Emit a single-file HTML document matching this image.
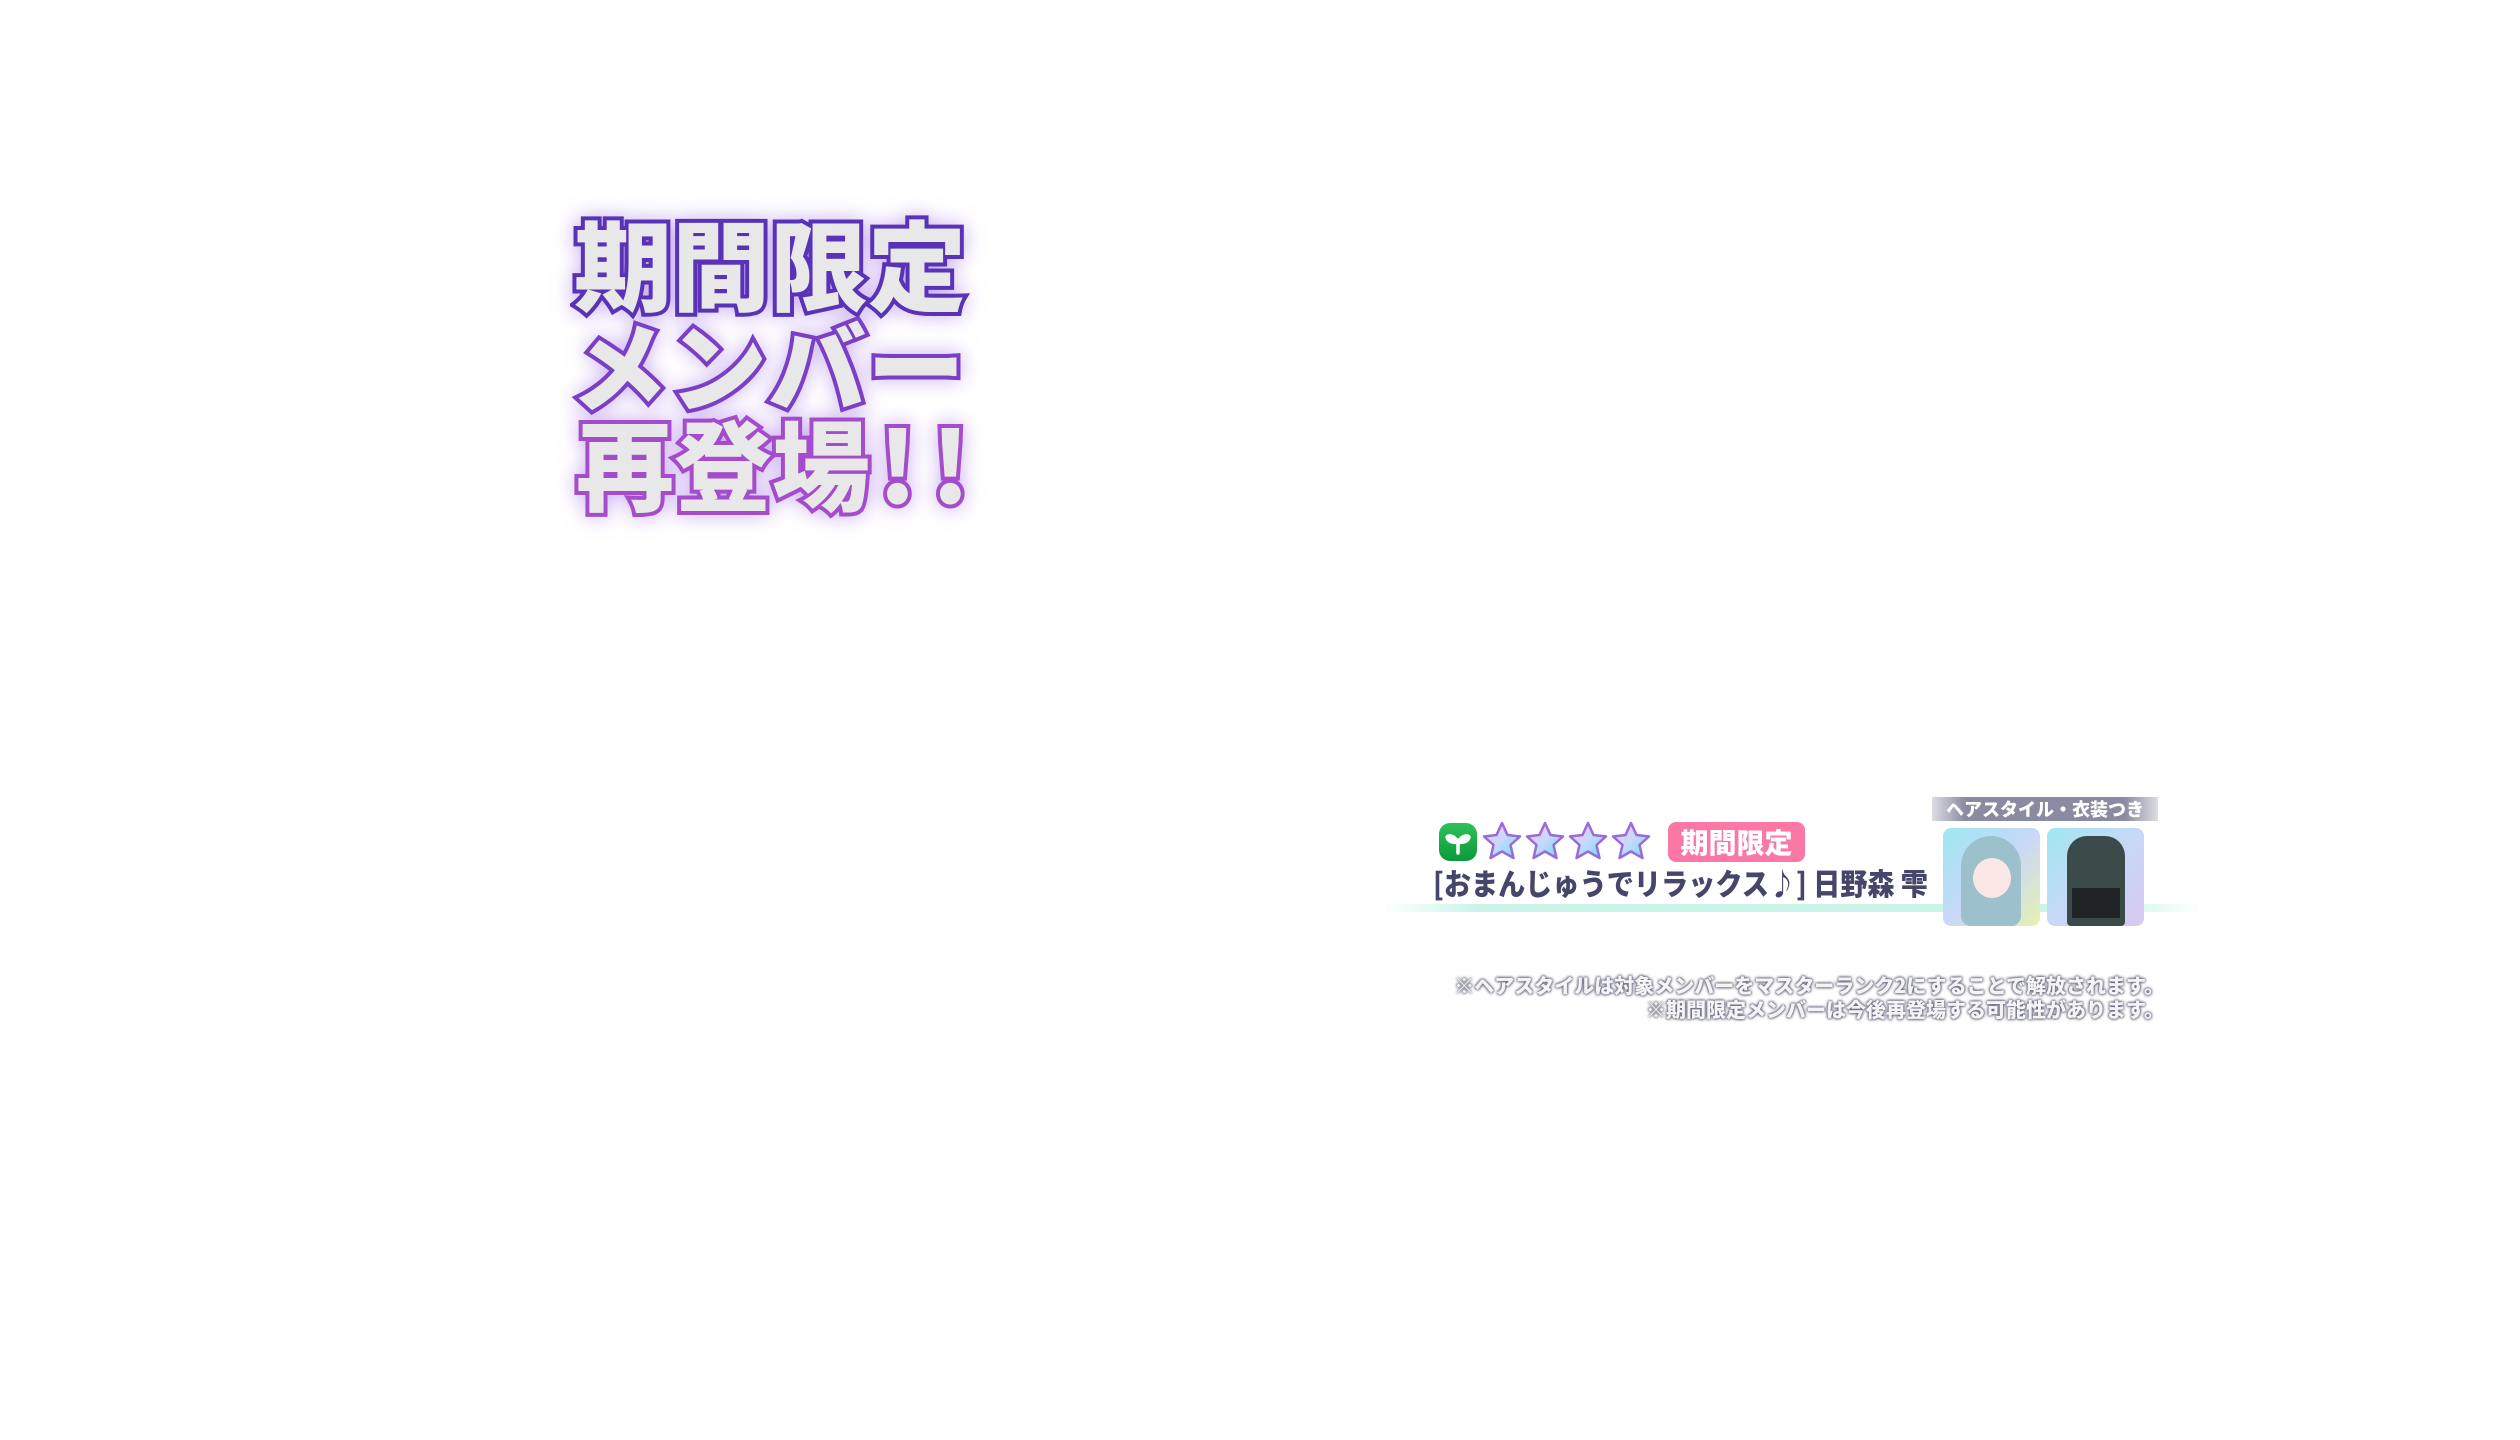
<!DOCTYPE html>
<html><head><meta charset="utf-8"><style>
html,body{margin:0;padding:0;width:2520px;height:1440px;background:#fff;overflow:hidden;position:relative}
*{box-sizing:border-box}
.t{position:absolute;left:574px;width:420px;font-family:"Noto Sans CJK JP",sans-serif;font-weight:900;font-size:98px;line-height:98px;white-space:nowrap;color:#e8e8e8;paint-order:stroke fill;-webkit-text-stroke:8px #5a32b8;}
.g{filter:drop-shadow(0 0 10px rgba(160,110,230,.55));}
.abs{position:absolute}
</style></head><body>
<div class="g abs" style="left:0;top:0;width:1100px;height:600px">
<div class="t" style="top:212px;-webkit-text-stroke-color:#5833b8">期間限定</div>
<div class="t" style="top:313px;-webkit-text-stroke-color:#7a3fc4;left:570px;letter-spacing:1px">メンバー</div>
<div class="t" style="top:412px;-webkit-text-stroke-color:#a44ccb;left:576px">再登場<span style="letter-spacing:14px;margin-left:8px">!!</span></div>
</div>

<div class="abs" style="left:1382px;top:904px;width:820px;height:8px;background:linear-gradient(90deg,rgba(200,245,232,0),#c9f4e8 12%,#c9f4e8 88%,rgba(200,245,232,0))"></div>

<div class="abs" style="left:1439px;top:823px;width:38px;height:38px;border-radius:11px;background:linear-gradient(#2ec15a,#0b9a3a)">
<svg width="38" height="38" viewBox="0 0 38 38"><path d="M19 30V19M19 19C15 12 9 12 8 14C9 19 15 20 19 19C23 20 29 19 30 14C29 12 23 12 19 19" stroke="#fff" stroke-width="3.5" fill="#fff" stroke-linecap="round"/></svg></div>
<svg class="abs" style="left:1481px;top:820px" width="175" height="44" viewBox="0 0 175 44">
<defs><linearGradient id="s" x1="0" y1="0" x2="1" y2="1"><stop offset="0" stop-color="#f6c8f0"/><stop offset=".5" stop-color="#c8d8ff"/><stop offset="1" stop-color="#5fe0e8"/></linearGradient></defs>
<g stroke="#9a6ad8" stroke-width="2.5" fill="url(#s)" stroke-linejoin="round">
<path d="M21 3L26.5 15L39 16.5L29.5 25L32.5 38L21 31.5L9.5 38L12.5 25L3 16.5L15.5 15Z"/>
<path transform="translate(43 0)" d="M21 3L26.5 15L39 16.5L29.5 25L32.5 38L21 31.5L9.5 38L12.5 25L3 16.5L15.5 15Z"/>
<path transform="translate(86 0)" d="M21 3L26.5 15L39 16.5L29.5 25L32.5 38L21 31.5L9.5 38L12.5 25L3 16.5L15.5 15Z"/>
<path transform="translate(129 0)" d="M21 3L26.5 15L39 16.5L29.5 25L32.5 38L21 31.5L9.5 38L12.5 25L3 16.5L15.5 15Z"/>
</g></svg>
<div class="abs" style="left:1668px;top:822px;width:137px;height:40px;border-radius:8px;background:#fb78a4;color:#fff;font-size:28px;line-height:40px;text-align:center;font-family:'Noto Sans CJK JP',sans-serif;font-weight:900">期間限定</div>
<div class="abs" style="left:1433px;top:863px;font-size:30px;line-height:38px;color:#45466a;white-space:nowrap;font-family:'Noto Sans CJK JP',sans-serif;font-weight:900;transform:scaleX(0.905);transform-origin:0 0">[おまんじゅうでリラックス♪] 日野森 雫</div>

<div class="abs" style="left:1932px;top:797px;width:226px;height:24px;background:linear-gradient(90deg,rgba(140,140,160,.3),#8a8aa0 15%,#8a8aa0 85%,rgba(140,140,160,.3));color:#fff;font-family:'Noto Sans CJK JP',sans-serif;font-weight:900;font-size:18px;line-height:24px;text-align:center">ヘアスタイル・衣装つき</div>
<div class="abs" style="left:1943px;top:828px;width:97px;height:98px;border-radius:8px;background:linear-gradient(135deg,#9ee8f0,#c8d8f8 50%,#e8f0b0);overflow:hidden">
<div style="position:absolute;left:18px;top:8px;width:60px;height:90px;border-radius:30px 30px 10px 10px;background:#9cc0cc"></div>
<div style="position:absolute;left:30px;top:30px;width:38px;height:40px;border-radius:50%;background:#fbe8e6"></div></div>
<div class="abs" style="left:2047px;top:828px;width:97px;height:98px;border-radius:8px;background:linear-gradient(135deg,#9ee8f0,#c8d8f8 50%,#d8c8f0);overflow:hidden">
<div style="position:absolute;left:20px;top:8px;width:58px;height:90px;border-radius:20px 20px 4px 4px;background:#3a4a48"></div>
<div style="position:absolute;left:25px;top:60px;width:48px;height:30px;background:#1e2222"></div></div>

<div class="abs" style="right:356px;top:973px;text-align:right;font-family:'Noto Sans CJK JP',sans-serif;font-weight:900;font-size:20px;line-height:24px;color:#f4f4f6;white-space:nowrap;text-shadow:0 0 3px #6a6a80,0 0 3px #6a6a80,0 0 2px #6a6a80">※ヘアスタイルは対象メンバーをマスターランク2にすることで解放されます。<br>※期間限定メンバーは今後再登場する可能性があります。</div>
</body></html>
